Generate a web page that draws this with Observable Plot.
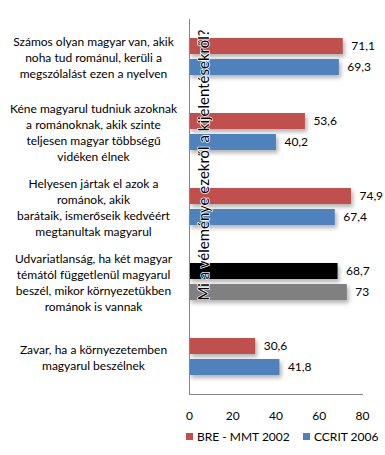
<!DOCTYPE html>
<html>
<head>
<meta charset="utf-8">
<script src="https://cdn.jsdelivr.net/npm/d3@7"></script>
<script src="https://cdn.jsdelivr.net/npm/@observablehq/plot@0.6"></script>
<style>
  html, body { margin: 0; padding: 0; background: #fff; }
  #wrap { position: relative; width: 385px; font-family: Lato, "Open Sans", sans-serif; }
  #wrap svg g[aria-label="bar"] rect { filter: drop-shadow(2px 3px 2px rgba(0,0,0,0.3)); }
  .legend { position: relative; height: 24px; font-size: 12px; color: #000; }
  .legend .item { position: absolute; top: 4px; display: flex; align-items: center; }
  .legend .sw { width: 7px; height: 7px; margin-right: 4px; }
</style>
</head>
<body>
<div id="wrap"></div>
<script>
const categories = [
  "Számos olyan magyar van, akik\nnoha tud románul, kerüli a\nmegszólalást ezen a nyelven",
  "Kéne magyarul tudniuk azoknak\na románoknak, akik szinte\nteljesen magyar többségű\nvidéken élnek",
  "Helyesen jártak el azok a\nrománok, akik\nbarátaik, ismerőseik kedvéért\nmegtanultak magyarul",
  "Udvariatlanság, ha két magyar\ntémától függetlenül magyarul\nbeszél, mikor környezetükben\nrománok is vannak",
  "Zavar, ha a környezetemben\nmagyarul beszélnek"
];
const seriesNames = ["BRE - MMT 2002", "CCRIT 2006"];
const bre2002 = [71.1, 53.6, 74.9, 68.7, 30.6];
const ccrit2006 = [69.3, 40.2, 67.4, 73, 41.8];
const colorsBre = ["#C0504D", "#C0504D", "#C0504D", "#000000", "#C0504D"];
const colorsCcrit = ["#4F81BD", "#4F81BD", "#4F81BD", "#808080", "#4F81BD"];
const xTicks = [0, 20, 40, 60, 80];
const axisTitle = "Mi a véleménye ezekről a kijelentésekről?";

const rows = [];
categories.forEach((c, i) => {
  rows.push({cat: c, s: 0, value: bre2002[i], color: colorsBre[i]});
  rows.push({cat: c, s: 1, value: ccrit2006[i], color: colorsCcrit[i]});
});
const fmt = v => String(v).replace(".", ",");

const chart = Plot.plot({
  width: 385,
  height: 425,
  marginLeft: 189,
  marginRight: 23,
  marginTop: 18,
  marginBottom: 30,
  style: {fontFamily: "Lato, 'Open Sans', sans-serif", fontSize: "12px", color: "#000"},
  x: {domain: [0, 80], ticks: xTicks, label: null},
  y: {domain: [0, 1], paddingInner: 0.233, paddingOuter: 0.87, axis: null},
  fy: {domain: categories, padding: 0, axis: null, label: null},
  marks: [
    Plot.barX(rows, {fy: "cat", y: "s", x: "value", fill: "color"}),
    Plot.text(rows, {fy: "cat", y: "s", x: "value", text: d => fmt(d.value), textAnchor: "start", dx: 8, fontSize: 12, fill: "#000"}),
    Plot.text(categories, {fy: d => d, text: d => d, frameAnchor: "left", dx: -96, textAnchor: "middle", lineHeight: 1.33, fontSize: 12, fill: "#000"}),
    Plot.ruleX([0], {stroke: "#868686", strokeWidth: 1}),
    Plot.frame({anchor: "bottom", fy: [categories[4]], stroke: "#868686", strokeOpacity: 1}),
    Plot.text([axisTitle], {fy: [categories[2]], text: d => d, frameAnchor: "left", dx: 15, dy: -42, rotate: -90, textAnchor: "middle", fontSize: 15, fill: "#000", stroke: "#fff", strokeWidth: 1.5}),
    Plot.axisX(xTicks, {tickSize: 0, tickPadding: 17, fontSize: 12, label: null, fill: "#000"})
  ]
});
document.getElementById("wrap").appendChild(chart);

const legend = document.createElement("div");
legend.className = "legend";
const legendLeft = [186, 303];
seriesNames.forEach((name, i) => {
  const it = document.createElement("div");
  it.className = "item";
  it.style.left = legendLeft[i] + "px";
  const sw = document.createElement("span");
  sw.className = "sw";
  sw.style.background = i === 0 ? "#C0504D" : "#4F81BD";
  const t = document.createElement("span");
  t.textContent = name;
  it.appendChild(sw);
  it.appendChild(t);
  legend.appendChild(it);
});
document.getElementById("wrap").appendChild(legend);
</script>
</body>
</html>
